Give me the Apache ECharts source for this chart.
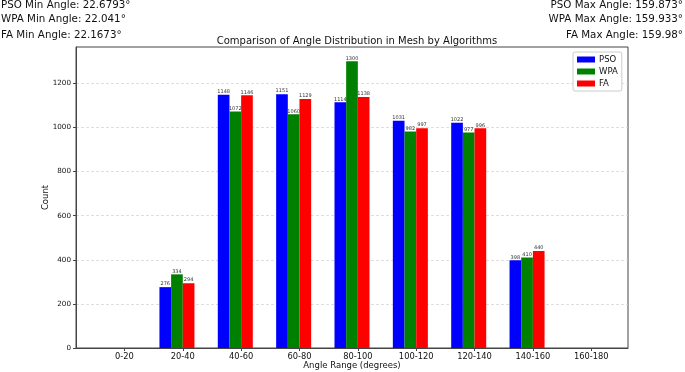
<!DOCTYPE html>
<html><head><meta charset="utf-8">
<script src="https://cdn.jsdelivr.net/npm/echarts@6/dist/echarts.min.js"></script>
<style>html,body{margin:0;padding:0;background:#fff}#c{width:685px;height:372px}</style>
</head><body><div id="c"></div>
<script>
const categories = ['0-20','20-40','40-60','60-80','80-100','100-120','120-140','140-160','160-180'];
const psoCounts = [0, 276, 1148, 1151, 1114, 1031, 1022, 398, 0];
const wpaCounts = [0, 334, 1072, 1060, 1300, 982, 977, 410, 0];
const faCounts  = [0, 294, 1146, 1129, 1138, 997, 996, 440, 0];
const yTicks = [0, 200, 400, 600, 800, 1000, 1200];
const minTexts = ['PSO Min Angle: 22.6793°', 'WPA Min Angle: 22.041°', 'FA Min Angle: 22.1673°'];
const maxTexts = ['PSO Max Angle: 159.873°', 'WPA Max Angle: 159.933°', 'FA Max Angle: 159.98°'];

const FONT = 'DejaVu Sans';
const chart = echarts.init(document.getElementById('c'), null, {renderer: 'canvas'});

function makeSeries(name, values, color, off) {
  return {
    name: name,
    type: 'custom',
    itemStyle: {color: color},
    encode: {x: 0, y: 1},
    data: values.map((v, i) => [i, v]),
    renderItem: function (params, api) {
      const x = api.value(0) + off;
      const v = api.value(1);
      const p0 = api.coord([x - 0.1, v]);
      const p1 = api.coord([x + 0.1, 0]);
      const children = [{
        type: 'rect',
        shape: {x: p0[0], y: p0[1], width: p1[0] - p0[0], height: p1[1] - p0[1]},
        style: {fill: color}
      }];
      if (v > 0) {
        children.push({
          type: 'text',
          style: {
            text: String(v), x: (p0[0] + p1[0]) / 2, y: p0[1] - 0.5,
            align: 'center', verticalAlign: 'bottom',
            font: '5px "DejaVu Sans"', fill: '#333'
          }
        });
      }
      return {type: 'group', children: children};
    }
  };
}

const graphics = [];
minTexts.forEach((t, i) => graphics.push({
  type: 'text', left: 1, top: [0, 14, 30][i],
  style: {text: t, font: '10.3px "DejaVu Sans"', fill: '#111'}
}));
maxTexts.forEach((t, i) => graphics.push({
  type: 'text', right: 2, top: [0, 14, 30][i],
  style: {text: t, font: '10.3px "DejaVu Sans"', fill: '#111', align: 'right'}
}));

chart.setOption({
  animation: false,
  backgroundColor: '#fff',
  textStyle: {fontFamily: FONT},
  title: {
    text: 'Comparison of Angle Distribution in Mesh by Algorithms',
    left: 352, top: 31, textAlign: 'center',
    textStyle: {fontFamily: FONT, fontSize: 10, fontWeight: 'normal', color: '#111'}
  },
  graphic: graphics,
  legend: {
    orient: 'vertical', left: 573, top: 52,
    itemWidth: 18, itemHeight: 6, itemGap: 3,
    padding: [3, 4, 3, 4],
    backgroundColor: '#fff', borderColor: '#ccc', borderWidth: 1, borderRadius: 2,
    icon: 'rect',
    textStyle: {fontFamily: FONT, fontSize: 8.5, color: '#111', padding: [0, 0, 0, -1]},
    data: ['PSO', 'WPA', 'FA']
  },
  grid: {left: 76, right: 57, top: 47, bottom: 24, show: true, borderColor: '#444', borderWidth: 1, outerBoundsMode: 'none', containLabel: false},
  xAxis: {
    type: 'value', min: -0.83, max: 8.63,
    name: 'Angle Range (degrees)', nameLocation: 'middle', nameGap: 13, nameMoveOverlap: false,
    nameTextStyle: {fontFamily: FONT, fontSize: 8.5, color: '#111'},
    axisLine: {show: true, onZero: false, lineStyle: {color: '#444', width: 1}},
    axisTick: {show: true, length: 3, lineStyle: {color: '#444'}, customValues: categories.map((c, i) => i)},
    axisLabel: {
      customValues: categories.map((c, i) => i),
      formatter: v => categories[Math.round(v)],
      fontFamily: FONT, fontSize: 8.3, color: '#111', margin: 5
    },
    splitLine: {show: false}
  },
  yAxis: {
    type: 'value', min: 0, max: 1365, interval: 200,
    name: 'Count', nameLocation: 'middle', nameGap: 26, nameRotate: 90, nameMoveOverlap: false,
    nameTextStyle: {fontFamily: FONT, fontSize: 8.5, color: '#111'},
    axisLine: {show: true, onZero: false, lineStyle: {color: '#444', width: 1}},
    axisTick: {show: true, length: 3, lineStyle: {color: '#444'}, customValues: yTicks},
    axisLabel: {customValues: yTicks, formatter: v => String(v), fontFamily: FONT, fontSize: 7.2, color: '#111', margin: 5},
    splitLine: {show: true, lineStyle: {color: '#d0d0d0', type: [3, 2], width: 0.7}}
  },
  series: [
    makeSeries('PSO', psoCounts, '#0000ff', -0.3),
    makeSeries('WPA', wpaCounts, '#008000', -0.1),
    makeSeries('FA', faCounts, '#ff0000', 0.1)
  ]
});
</script>
</body></html>
